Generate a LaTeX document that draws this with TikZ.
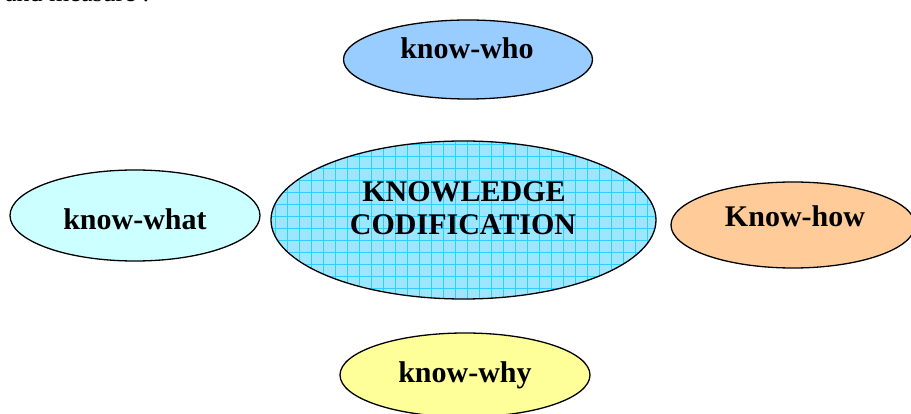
\documentclass[tikz,border=0pt]{standalone}
\usepackage{fontspec}
\setmainfont{Liberation Serif}
\usetikzlibrary{shapes.geometric}
\definecolor{whoC}{HTML}{99CCFF}
\definecolor{whatC}{HTML}{CCFFFF}
\definecolor{howC}{HTML}{FFCC99}
\definecolor{whyC}{HTML}{FFFF99}
\definecolor{coreC}{HTML}{9DE6FF}
\definecolor{gridC}{HTML}{33CCFF}
\tikzset{
  bubble/.style={ellipse, draw=black, line width=1.3pt, inner sep=0pt, outer sep=0pt},
  lbl/.style={font=\bfseries\fontsize{30}{33}\selectfont, inner sep=0pt, anchor=base},
  body/.style={font=\fontsize{26}{30}\selectfont, inner sep=0pt, anchor=base west}
}
\begin{document}
\begin{tikzpicture}[x=1pt,y=-1pt]
\useasboundingbox (0,0) rectangle (911,414);
% partially visible text at top
\node[body] (intro) at (5,1.8) {and measure :};
% outer bubbles
\node[bubble, fill=whoC, minimum width=249pt, minimum height=79pt] (who) at (468,59.5) {};
\node[bubble, fill=whatC, minimum width=250pt, minimum height=91pt] (what) at (135,215.5) {};
\node[bubble, fill=howC, minimum width=244pt, minimum height=86pt] (how) at (793,225) {};
\node[bubble, fill=whyC, minimum width=250pt, minimum height=84pt] (why) at (465,375) {};
% central bubble with grid fill
\node[ellipse, inner sep=0pt, fill=coreC, minimum width=385pt, minimum height=158pt] (core) at (463.5,220) {};
\begin{scope}
  \clip (463.5,220) ellipse [x radius=192.5pt, y radius=79pt];
  \foreach \gx in {275,287,...,659} \draw[gridC, line width=0.7pt] (\gx,140) -- (\gx,300);
  \foreach \gy in {144,156,...,300} \draw[gridC, line width=0.7pt] (270,\gy) -- (657,\gy);
\end{scope}
\draw[line width=1.3pt] (463.5,220) ellipse [x radius=192.5pt, y radius=79pt];
% labels
\node[lbl] (twho) at (467,59) {know-who};
\node[lbl] (twhat) at (135,230) {know-what};
\node[lbl] (thow) at (795,227) {Know-how};
\node[lbl] (twhy) at (465,382) {know-why};
\node[lbl] (tcore1) at (464,202) {KNOWLEDGE};
\node[lbl] (tcore2) at (463,235) {CODIFICATION};
\end{tikzpicture}
\end{document}
